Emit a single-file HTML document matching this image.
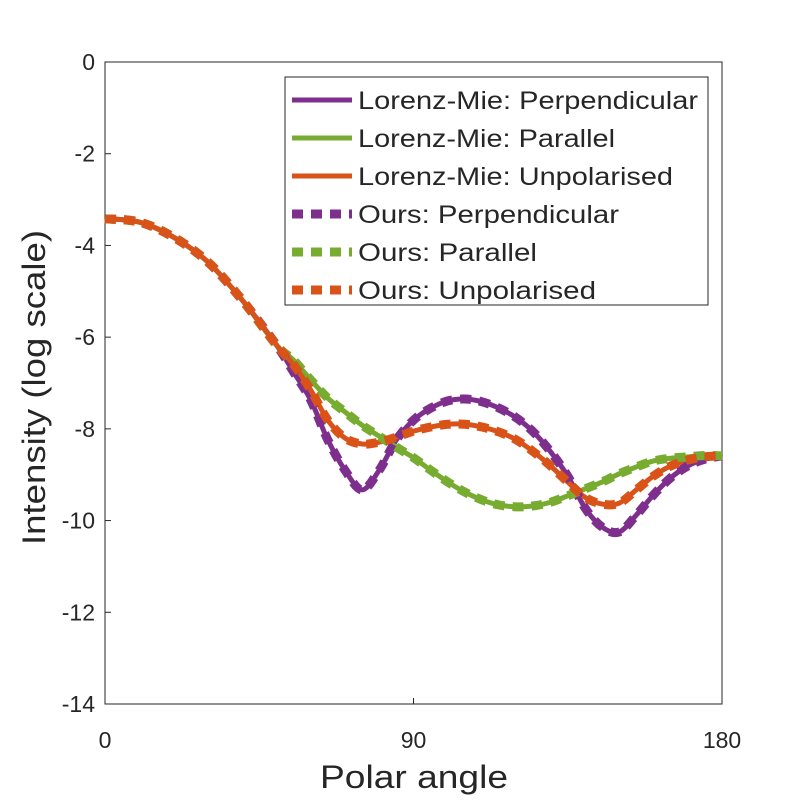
<!DOCTYPE html>
<html><head><meta charset="utf-8"><style>body{margin:0;background:#fff}text{font-family:"Liberation Sans",sans-serif;fill:#262626}</style></head>
<body><svg id="c" width="800" height="800" xmlns="http://www.w3.org/2000/svg"></svg>
<script>
const angles=[0,10,20,30,40,50,55,60,65,70,75,80,85,90,95,100,105,110,115,120,125,130,135,140,145,150,155,160,165,170,175,180];
const perp=[-3.42,-3.49,-3.82,-4.36,-5.19,-6.17,-6.76,-7.37,-8.24,-8.9,-9.33,-8.9,-8.24,-7.81,-7.55,-7.39,-7.35,-7.41,-7.55,-7.76,-8.07,-8.5,-9.03,-9.72,-10.14,-10.25,-9.88,-9.44,-9.07,-8.81,-8.66,-8.59];
const para=[-3.42,-3.49,-3.82,-4.36,-5.19,-6.17,-6.5,-6.93,-7.33,-7.63,-7.92,-8.16,-8.4,-8.63,-8.9,-9.16,-9.38,-9.55,-9.66,-9.7,-9.68,-9.6,-9.46,-9.31,-9.16,-8.98,-8.83,-8.7,-8.64,-8.61,-8.58,-8.59];
const unpol=[-3.42,-3.49,-3.82,-4.36,-5.19,-6.17,-6.6,-7.15,-7.81,-8.2,-8.33,-8.29,-8.18,-8.05,-7.96,-7.9,-7.9,-7.96,-8.07,-8.24,-8.5,-8.81,-9.16,-9.49,-9.64,-9.62,-9.33,-9.03,-8.81,-8.68,-8.61,-8.59];
const yTicks=[0,-2,-4,-6,-8,-10,-12,-14];
const xTicks=[0,90,180];
const names=["Lorenz-Mie: Perpendicular","Lorenz-Mie: Parallel","Lorenz-Mie: Unpolarised","Ours: Perpendicular","Ours: Parallel","Ours: Unpolarised"];
const nameW=[340,257,315,261,179,238];
const L=105,R=722,T=62,B=704;
const X=a=>L+(a/180)*(R-L), Y=v=>T+(0-v)/14*(B-T);
const svg=document.getElementById('c');const NS="http://www.w3.org/2000/svg";
function mk(t,a,p){const e=document.createElementNS(NS,t);for(const k in a)e.setAttribute(k,a[k]);(p||svg).appendChild(e);return e;}
const fr=mk('rect',{x:L,y:T,width:R-L,height:B-T,fill:'#fff',stroke:'#262626','stroke-width':1});


yTicks.forEach(v=>{const t=mk('text',{x:L-10,y:Y(v)+8,'text-anchor':'end','font-size':23});t.textContent=v;


mk('line',{x1:L,x2:L+6,y1:Y(v),y2:Y(v),stroke:'#262626'});});
xTicks.forEach(v=>{const t=mk('text',{x:X(v),y:B+44,'text-anchor':'middle','font-size':23});t.textContent=v;


mk('line',{x1:X(v),x2:X(v),y1:B,y2:B-6,stroke:'#262626'});});
const xt=mk('text',{x:320,y:788,'font-size':32,textLength:188,lengthAdjust:'spacingAndGlyphs'});xt.textContent='Polar angle';


const yt=mk('text',{x:0,y:0,'font-size':32,textLength:315,lengthAdjust:'spacingAndGlyphs',transform:'translate(45,545) rotate(-90)'});yt.textContent='Intensity (log scale)';


const cols=['#7e2f8e','#77ac30','#d95319'];
const series=[perp,para,unpol];
function path(s){const p=s.map((v,i)=>[X(angles[i]),Y(v)]);let d='M'+p[0];for(let i=0;i<p.length-1;i++){const p0=p[i-1]||p[i],p1=p[i],p2=p[i+1],p3=p[i+2]||p2;const c1=[p1[0]+(p2[0]-p0[0])/6,p1[1]+(p2[1]-p0[1])/6],c2=[p2[0]-(p3[0]-p1[0])/6,p2[1]-(p3[1]-p1[1])/6];d+='C'+c1+' '+c2+' '+p2;}return d;}
const sn=['perpendicular','parallel','unpolarised'];
series.forEach((s,i)=>{const l=mk('path',{d:path(s),fill:'none',stroke:cols[i],'stroke-width':5});

});
series.forEach((s,i)=>{const l=mk('path',{d:path(s),fill:'none',stroke:cols[i],'stroke-width':9,'stroke-dasharray':'11 8'});

});
const g=mk('g',{});


mk('rect',{x:285,y:77,width:423,height:228,fill:'#fff',stroke:'#262626'},g);
names.forEach((n,i)=>{const y=100+i*38;const c=cols[i%3];
if(i<3)mk('line',{x1:292,x2:352,y1:y,y2:y,stroke:c,'stroke-width':5},g);
else mk('line',{x1:292,x2:352,y1:y,y2:y,stroke:c,'stroke-width':9,'stroke-dasharray':'11 8'},g);
const t=mk('text',{x:358,y:y+9,'font-size':25,textLength:nameW[i],lengthAdjust:'spacingAndGlyphs'},g);t.textContent=n;

});
</script></body></html>
